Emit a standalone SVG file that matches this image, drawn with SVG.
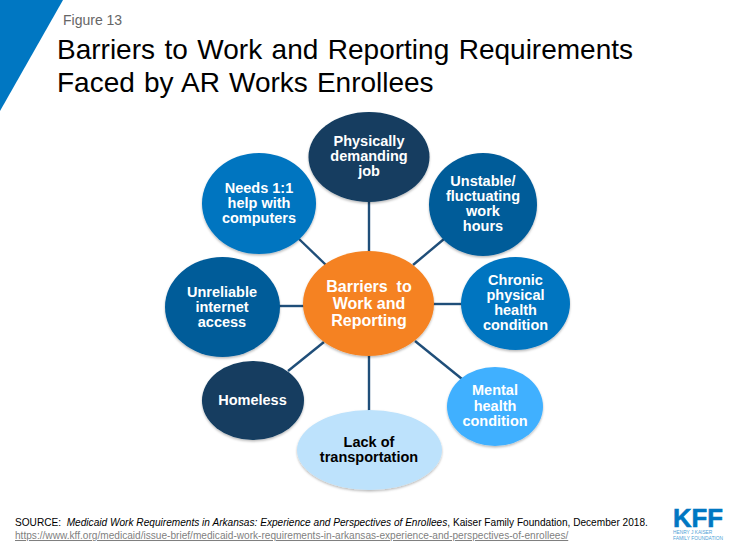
<svg xmlns="http://www.w3.org/2000/svg" width="735" height="551" viewBox="0 0 735 551">
<style>
text{font-family:"Liberation Sans",Arial,sans-serif}
.l{font-size:14.5px;font-weight:bold;fill:#fff;text-anchor:middle}
.k{fill:#000}
.b{font-size:16px}
.c line{stroke:#1f4e79;stroke-width:2.4}
</style>
<defs><filter id="s" x="-10%" y="-10%" width="120%" height="125%"><feDropShadow dx="0" dy="1.5" stdDeviation="1.2" flood-color="#000" flood-opacity=".28"/></filter></defs>
<rect width="735" height="551" fill="#fff"/>
<polygon points="0,0 63,0 0,111" fill="#0077c2"/>
<text x="63" y="25" font-size="14" fill="#666">Figure 13</text>
<text x="57" y="59" font-size="28" fill="#000" word-spacing="1.700">Barriers to Work and Reporting Requirements</text>
<text x="57" y="92" font-size="28" fill="#000" word-spacing="1.300">Faced by AR Works Enrollees</text>
<g class="c" id="connectors">
<line x1="369" y1="200" x2="369" y2="253"/>
<line x1="299" y1="239" x2="326" y2="265"/>
<line x1="444" y1="239" x2="413" y2="265"/>
<line x1="279" y1="306" x2="305" y2="306"/>
<line x1="433" y1="304" x2="463" y2="304"/>
<line x1="288" y1="371" x2="324" y2="342"/>
<line x1="462" y1="379" x2="415" y2="341"/>
<line x1="369" y1="355" x2="369" y2="412"/>
</g>
<g id="n-job"><ellipse cx="369" cy="157" rx="60.500" ry="45" fill="#123c60" filter="url(#s)"/><text class="l" x="369" y="146">Physically</text><text class="l" x="369" y="161">demanding</text><text class="l" x="369" y="176">job</text></g>
<g id="n-computers"><ellipse cx="259" cy="203.500" rx="57" ry="50.500" fill="#0075c0" filter="url(#s)"/><text class="l" x="259" y="193">Needs 1:1</text><text class="l" x="259" y="208">help with</text><text class="l" x="259" y="223">computers</text></g>
<g id="n-hours"><ellipse cx="483" cy="204.500" rx="54" ry="51.500" fill="#005b99" filter="url(#s)"/><text class="l" x="483" y="186">Unstable/</text><text class="l" x="483" y="201">fluctuating</text><text class="l" x="483" y="216">work</text><text class="l" x="483" y="231">hours</text></g>
<g id="n-internet"><ellipse cx="222.500" cy="307" rx="57.500" ry="50" fill="#005b99" filter="url(#s)"/><text class="l" x="222" y="297">Unreliable</text><text class="l" x="222" y="312">internet</text><text class="l" x="222" y="327">access</text></g>
<g id="n-chronic"><ellipse cx="515.500" cy="303.500" rx="54.500" ry="46.500" fill="#0075c0" filter="url(#s)"/><text class="l" x="515.500" y="285">Chronic</text><text class="l" x="515.500" y="300">physical</text><text class="l" x="515.500" y="315">health</text><text class="l" x="515.500" y="330">condition</text></g>
<g id="n-homeless"><ellipse cx="253" cy="400.500" rx="51" ry="39.500" fill="#123c60" filter="url(#s)"/><text class="l" x="252.500" y="405">Homeless</text></g>
<g id="n-mental"><ellipse cx="495" cy="406.500" rx="48" ry="39.500" fill="#41b0ff" filter="url(#s)"/><text class="l" x="495" y="395">Mental</text><text class="l" x="495" y="411">health</text><text class="l" x="495" y="426">condition</text></g>
<g id="n-transport"><ellipse cx="369.500" cy="450" rx="72.500" ry="40" fill="#bde2fc" filter="url(#s)"/><text class="l k" x="369" y="447">Lack of</text><text class="l k" x="369" y="462">transportation</text></g>
<g id="n-center"><ellipse cx="368.500" cy="303.500" rx="65.500" ry="52.500" fill="#f58220" filter="url(#s)"/><text class="l b" x="369" y="292" xml:space="preserve">Barriers  to</text><text class="l b" x="369" y="309">Work and</text><text class="l b" x="369" y="326">Reporting</text></g>
<text x="15" y="526" font-size="10.120" fill="#000" xml:space="preserve">SOURCE:  <tspan font-style="italic">Medicaid Work Requirements in Arkansas: Experience and Perspectives of Enrollees</tspan>, Kaiser Family Foundation, December 2018.</text>
<text x="15" y="539" font-size="10.120" fill="#7f7f7f" text-decoration="underline">https://www.kff.org/medicaid/issue-brief/medicaid-work-requirements-in-arkansas-experience-and-perspectives-of-enrollees/</text>
<g id="logo" fill="#0077c2"><text x="673" y="527" font-size="26.500" font-weight="bold" stroke="#0077c2" stroke-width=".6" textLength="50" lengthAdjust="spacingAndGlyphs">KFF</text><text x="673" y="534" font-size="4.800" fill="#4f9fd6">HENRY J KAISER</text><text x="673" y="540" font-size="4.800" fill="#4f9fd6" textLength="50" lengthAdjust="spacingAndGlyphs">FAMILY FOUNDATION</text></g>
</svg>
